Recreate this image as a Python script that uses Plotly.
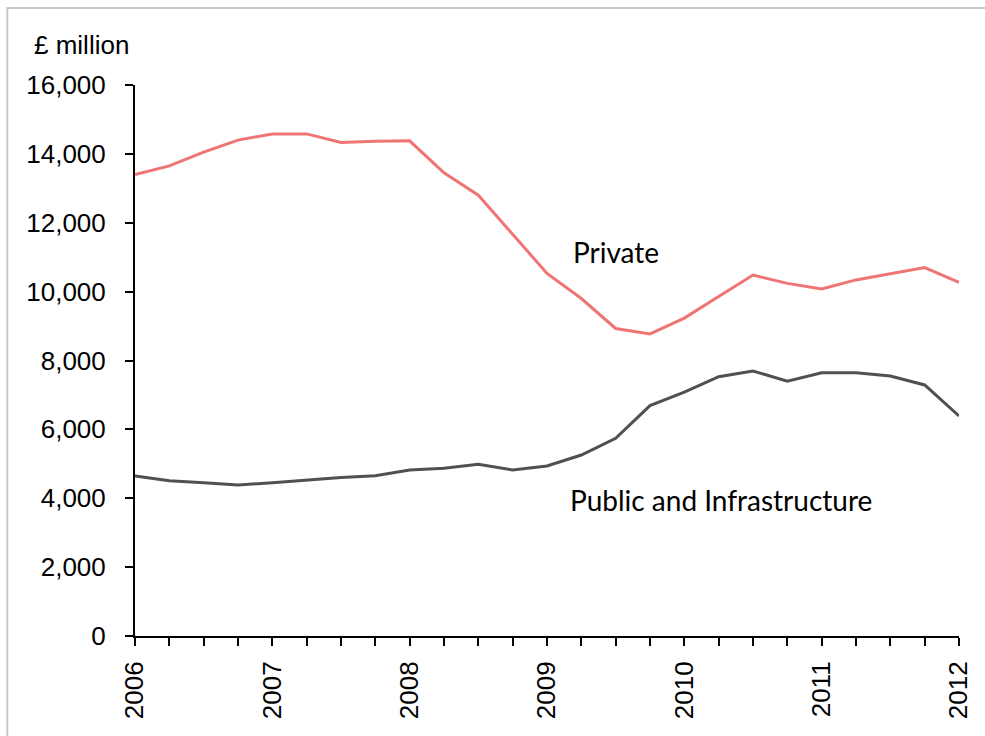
import plotly.graph_objects as go

# Quarterly construction output, 2006 Q1 to 2012 Q1 (£ million)
quarters = [2006 + i * 0.25 for i in range(25)]
private = [13400, 13650, 14050, 14400, 14580, 14580, 14330, 14370, 14380,
           13450, 12800, 11650, 10530, 9800, 8930, 8770, 9230, 9860,
           10480, 10240, 10080, 10340, 10510, 10700, 10270]
public_infra = [4650, 4510, 4450, 4385, 4450, 4530, 4600, 4655, 4820,
                4870, 4990, 4820, 4935, 5255, 5740, 6690, 7080, 7530,
                7695, 7400, 7645, 7645, 7550, 7290, 6390]

year_ticks = [2006, 2007, 2008, 2009, 2010, 2011, 2012]
y_ticks = [0, 2000, 4000, 6000, 8000, 10000, 12000, 14000, 16000]
y_labels = ["0", "2,000", "4,000", "6,000", "8,000", "10,000", "12,000", "14,000", "16,000"]

fig = go.Figure()
fig.add_trace(go.Scatter(x=quarters, y=private, mode="lines", name="Private",
                         line=dict(color="#f07474", width=3)))
fig.add_trace(go.Scatter(x=quarters, y=public_infra, mode="lines",
                         name="Public and Infrastructure",
                         line=dict(color="#505050", width=3)))

axis_font = dict(family="Liberation Sans, Arial, sans-serif", size=26, color="#000000")
label_font = dict(family="Lato, Open Sans, sans-serif", size=28, color="#000000")

fig.update_layout(
    width=985, height=736,
    margin=dict(l=135, r=24, t=85, b=100),
    paper_bgcolor="white", plot_bgcolor="white",
    showlegend=False,
    xaxis=dict(
        range=[2006, 2012],
        tickmode="array", tickvals=quarters,
        ticktext=[str(int(q)) if q in year_ticks else "" for q in quarters],
        tickangle=-90, ticks="outside", ticklen=8, tickwidth=2, tickcolor="black",
        ticklabelstandoff=5,
        showline=True, linecolor="black", linewidth=2,
        showgrid=False, zeroline=False, tickfont=axis_font,
    ),
    yaxis=dict(
        range=[0, 16000],
        tickmode="array", tickvals=y_ticks, ticktext=y_labels,
        ticks="outside", ticklen=8, tickwidth=2, tickcolor="black",
        ticklabelstandoff=14,
        showline=True, linecolor="black", linewidth=2,
        showgrid=False, zeroline=False, tickfont=axis_font,
    ),
    font=axis_font,
    shapes=[dict(type="rect", xref="paper", yref="paper",
                 x0=-0.155, x1=1.2, y0=-0.4, y1=1.1397,
                 line=dict(color="#c8c8c8", width=2), layer="below")],
    annotations=[
        dict(text="£ million", xref="paper", yref="paper", x=-0.125, y=1.0726,
             xanchor="left", yanchor="middle", showarrow=False, font=axis_font),
        dict(text="Private", xref="x", yref="y", x=2009.5, y=11150,
             xanchor="center", yanchor="middle", showarrow=False, font=label_font),
        dict(text="Public and Infrastructure", xref="x", yref="y", x=2010.27, y=3950,
             xanchor="center", yanchor="middle", showarrow=False, font=label_font),
    ],
)

fig.write_html("out.html")
